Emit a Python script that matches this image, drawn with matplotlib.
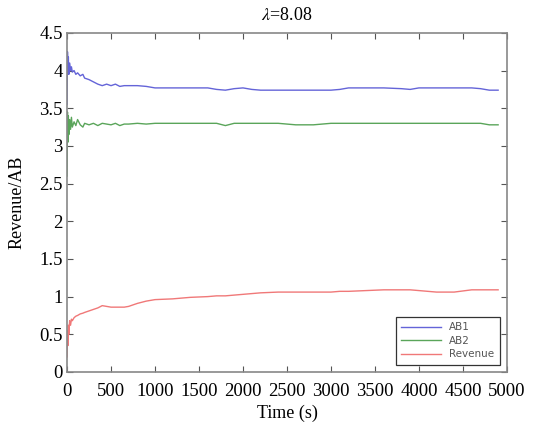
import numpy as np
from matplotlib import pyplot as plt

time = [0, 5, 10, 15, 20, 30, 40, 50, 60, 80,
        100, 120, 150, 180, 200, 250, 300, 350, 400, 450,
        500, 550, 600, 650, 700, 800, 900, 1000, 1200, 1400,
        1600, 1700, 1800, 1900, 2000, 2100, 2200, 2400, 2600, 2800,
        3000, 3100, 3200, 3400, 3600, 3800, 3900, 4000, 4200, 4400,
        4600, 4700, 4800, 4900]

ab1 = [3.55, 4.25, 4.05, 4.18, 3.95, 4.10, 4.00, 4.05, 3.98, 4.00,
       3.95, 3.97, 3.93, 3.95, 3.90, 3.88, 3.85, 3.82, 3.80, 3.82,
       3.80, 3.82, 3.79, 3.80, 3.80, 3.80, 3.79, 3.77, 3.77, 3.77,
       3.77, 3.75, 3.74, 3.76, 3.77, 3.75, 3.74, 3.74, 3.74, 3.74,
       3.74, 3.75, 3.77, 3.77, 3.77, 3.76, 3.75, 3.77, 3.77, 3.77,
       3.77, 3.76, 3.74, 3.74]

ab2 = [2.60, 3.45, 3.05, 3.40, 3.15, 3.35, 3.22, 3.38, 3.25, 3.32,
       3.27, 3.35, 3.28, 3.25, 3.30, 3.28, 3.30, 3.27, 3.30, 3.29,
       3.28, 3.30, 3.27, 3.29, 3.29, 3.30, 3.29, 3.30, 3.30, 3.30,
       3.30, 3.30, 3.27, 3.30, 3.30, 3.30, 3.30, 3.30, 3.28, 3.28,
       3.30, 3.30, 3.30, 3.30, 3.30, 3.30, 3.30, 3.30, 3.30, 3.30,
       3.30, 3.30, 3.28, 3.28]

revenue = [0.20, 0.55, 0.35, 0.62, 0.50, 0.68, 0.62, 0.70, 0.68, 0.72,
           0.74, 0.75, 0.77, 0.78, 0.79, 0.81, 0.83, 0.85, 0.88, 0.87,
           0.86, 0.86, 0.86, 0.86, 0.87, 0.91, 0.94, 0.96, 0.97, 0.99,
           1.00, 1.01, 1.01, 1.02, 1.03, 1.04, 1.05, 1.06, 1.06, 1.06,
           1.06, 1.07, 1.07, 1.08, 1.09, 1.09, 1.09, 1.08, 1.06, 1.06,
           1.09, 1.09, 1.09, 1.09]

plt.rcParams['font.family'] = 'Liberation Serif'
plt.rcParams['mathtext.fontset'] = 'stix'

fig = plt.figure(figsize=(5.54, 4.33), dpi=100)
ax = fig.add_axes([0.121, 0.141, 0.794, 0.783])

ax.plot(time, ab1, color='#6464d8', lw=1, label='AB1')
ax.plot(time, ab2, color='#5aa55a', lw=1, label='AB2')
ax.plot(time, revenue, color='#f07878', lw=1, label='Revenue')

ax.set_xlim(0, 5000)
ax.set_ylim(0, 4.5)
ax.set_xticks(np.arange(0, 5001, 500))
ax.set_yticks(np.arange(0, 4.51, 0.5))
ax.set_yticklabels(['0', '0.5', '1', '1.5', '2', '2.5', '3', '3.5', '4', '4.5'])
ax.tick_params(direction='in', length=4, top=True, right=True, labelsize=13.5,
               color='#555555', pad=3)
ax.tick_params(axis='x', pad=8)
for s in ax.spines.values():
    s.set_color('#888888')
    s.set_linewidth(1.2)

ax.set_title(r'$\lambda$=8.08', fontsize=13, pad=9)
ax.set_xlabel('Time (s)', fontsize=13, labelpad=3)
ax.set_ylabel('Revenue/AB', fontsize=13, labelpad=10)

leg = ax.legend(loc='lower right', prop={'family': 'DejaVu Sans', 'size': 7.5},
                fancybox=False, edgecolor='#333333', framealpha=1,
                handlelength=3.8, borderpad=0.5, labelspacing=0.35,
                borderaxespad=0.7)
leg.get_frame().set_linewidth(0.9)
for t in leg.get_texts():
    t.set_color('#555555')

fig.savefig('out.png', dpi=100)
